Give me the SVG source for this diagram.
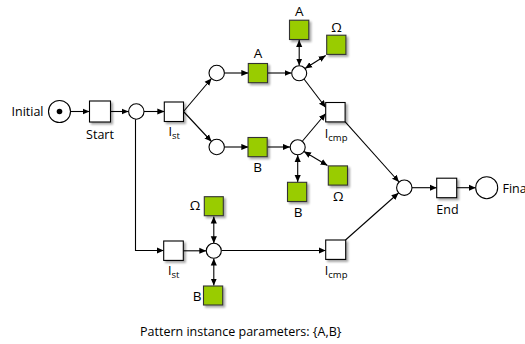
<svg xmlns="http://www.w3.org/2000/svg" width="525" height="344" viewBox="0 0 525 344">
<defs>
<marker id="ah" viewBox="0 0 8 8" refX="8" refY="4" markerWidth="7" markerHeight="7" markerUnits="userSpaceOnUse" orient="auto-start-reverse"><path d="M0,0.5 L8,4 L0,7.5 z" fill="#000"/></marker>
<filter id="sh" x="-20%" y="-20%" width="150%" height="150%"><feOffset dx="1.5" dy="1.5" in="SourceAlpha"/><feGaussianBlur stdDeviation="0.8"/><feComponentTransfer><feFuncA type="linear" slope="0.35"/></feComponentTransfer><feMerge><feMergeNode/><feMergeNode in="SourceGraphic"/></feMerge></filter>
</defs>
<style>
text{font-family:"Open Sans","Noto Sans","DejaVu Sans",sans-serif;font-size:12.5px;fill:#000}
.lt{font-size:13.5px}
.sub{font-size:9.5px}
.pl{fill:#fff;stroke:#000;stroke-width:1.1}
.tr{fill:#fff;stroke:#000;stroke-width:1.1;filter:url(#sh)}
.gt{fill:#99cc00;stroke:#333;stroke-width:1.1;filter:url(#sh)}
.e{fill:none;stroke:#000;stroke-width:1.1}
.a{marker-end:url(#ah)}
.d{marker-start:url(#ah);marker-end:url(#ah)}
</style>
<rect width="525" height="344" fill="#fff"/>
<g id="connectors">
<line class="e a" x1="70.7" y1="111.5" x2="89.5" y2="111.5"/>
<line class="e a" x1="110.5" y1="111.5" x2="128.5" y2="111.5"/>
<line class="e a" x1="144" y1="111.5" x2="164.3" y2="111.5"/>
<line class="e a" x1="183.5" y1="111.5" x2="211.5" y2="78.5"/>
<line class="e a" x1="183.5" y1="111.5" x2="211.5" y2="141.5"/>
<line class="e a" x1="224.5" y1="73" x2="248.3" y2="73"/>
<line class="e a" x1="224.5" y1="147" x2="248.3" y2="147"/>
<line class="e a" x1="267.5" y1="73" x2="291.5" y2="73"/>
<line class="e a" x1="267.5" y1="147" x2="290" y2="147"/>
<line class="e d" x1="299.2" y1="40" x2="299.2" y2="65.5"/>
<line class="e d" x1="325.7" y1="55.5" x2="305" y2="68.5"/>
<line class="e a" x1="304" y1="79" x2="325.7" y2="107.5"/>
<line class="e a" x1="302.5" y1="141" x2="325.7" y2="113.5"/>
<line class="e d" x1="297.7" y1="155" x2="297.7" y2="182"/>
<line class="e d" x1="304" y1="151.5" x2="327.5" y2="165.5"/>
<line class="e a" x1="345" y1="121.7" x2="399" y2="182"/>
<line class="e a" x1="345.5" y1="240" x2="398.5" y2="193"/>
<line class="e a" x1="412" y1="187.7" x2="436.7" y2="187.7"/>
<line class="e a" x1="456.7" y1="187.7" x2="475.7" y2="187.7"/>
<polyline class="e a" points="135.5,119.3 135.5,250.5 163.7,250.5"/>
<line class="e a" x1="183.3" y1="250.8" x2="206.3" y2="250.8"/>
<line class="e d" x1="213.8" y1="216.5" x2="213.8" y2="243.3"/>
<line class="e d" x1="213.8" y1="258.5" x2="213.8" y2="285.5"/>
<line class="e a" x1="221.7" y1="250.5" x2="325.7" y2="250.5"/>
</g>
<g id="initial"><circle class="pl" cx="59.5" cy="111.5" r="11"/><circle cx="59.5" cy="111.5" r="2.8" fill="#000"/><text x="43.5" y="116" text-anchor="end">Initial</text></g>
<g id="start"><rect class="tr" x="89.5" y="101" width="21" height="21"/><text x="100" y="139" text-anchor="middle">Start</text></g>
<g id="p1"><circle class="pl" cx="136.3" cy="111.5" r="7.7"/></g>
<g id="ist1"><rect class="tr" x="164.3" y="102" width="19.2" height="19.5"/><text x="168.5" y="135.5">I<tspan class="sub" dy="3">st</tspan></text></g>
<g id="p2"><circle class="pl" cx="216.7" cy="73" r="7.7"/></g>
<g id="p3"><circle class="pl" cx="216.7" cy="147" r="7.7"/></g>
<g id="tA"><rect class="gt" x="248.3" y="63.5" width="19.2" height="19.2"/><text class="lt" x="257.9" y="58" text-anchor="middle">A</text></g>
<g id="tB"><rect class="gt" x="248" y="137.5" width="19.2" height="19.2"/><text class="lt" x="257.6" y="171.5" text-anchor="middle">B</text></g>
<g id="p4"><circle class="pl" cx="299.2" cy="73.3" r="7.5"/></g>
<g id="p5"><circle class="pl" cx="297.7" cy="147.3" r="7.5"/></g>
<g id="tA2"><rect class="gt" x="289.5" y="20.2" width="19.3" height="19.3"/><text class="lt" x="299.2" y="16" text-anchor="middle">A</text></g>
<g id="tO1"><rect class="gt" x="326.7" y="35.2" width="19.2" height="19.2"/><text class="lt" x="336.5" y="31.5" text-anchor="middle">Ω</text></g>
<g id="tB2"><rect class="gt" x="287.5" y="182.3" width="19.2" height="19.2"/><text class="lt" x="298" y="217" text-anchor="middle">B</text></g>
<g id="tO2"><rect class="gt" x="328.3" y="165.9" width="19.2" height="19.2"/><text class="lt" x="338.2" y="201" text-anchor="middle">Ω</text></g>
<g id="icmp1"><rect class="tr" x="325.7" y="102.5" width="19.4" height="19.4"/><text x="324.8" y="137.5">I<tspan class="sub" dy="3">cmp</tspan></text></g>
<g id="merge"><circle class="pl" cx="404.3" cy="187.7" r="7.7"/></g>
<g id="end"><rect class="tr" x="436.7" y="178.2" width="20" height="19.5"/><text x="447.5" y="213.5" text-anchor="middle">End</text></g>
<g id="final"><circle class="pl" cx="486.7" cy="187.7" r="11"/><text x="502.5" y="192.5">Final</text></g>
<g id="ist2"><rect class="tr" x="163.7" y="241" width="19.6" height="19.4"/><text x="168" y="274.5">I<tspan class="sub" dy="3">st</tspan></text></g>
<g id="p6"><circle class="pl" cx="213.8" cy="250.8" r="7.5"/></g>
<g id="tO3"><rect class="gt" x="204.3" y="196.7" width="19" height="19"/><text class="lt" x="195" y="210" text-anchor="middle">Ω</text></g>
<g id="tB3"><rect class="gt" x="203.5" y="286" width="19.2" height="19"/><text class="lt" x="197" y="300.5" text-anchor="middle">B</text></g>
<g id="icmp2"><rect class="tr" x="325.7" y="240" width="20" height="19.4"/><text x="324.8" y="274.5">I<tspan class="sub" dy="3">cmp</tspan></text></g>
<text x="140" y="335.5">Pattern instance parameters: {A,B}</text>
</svg>
